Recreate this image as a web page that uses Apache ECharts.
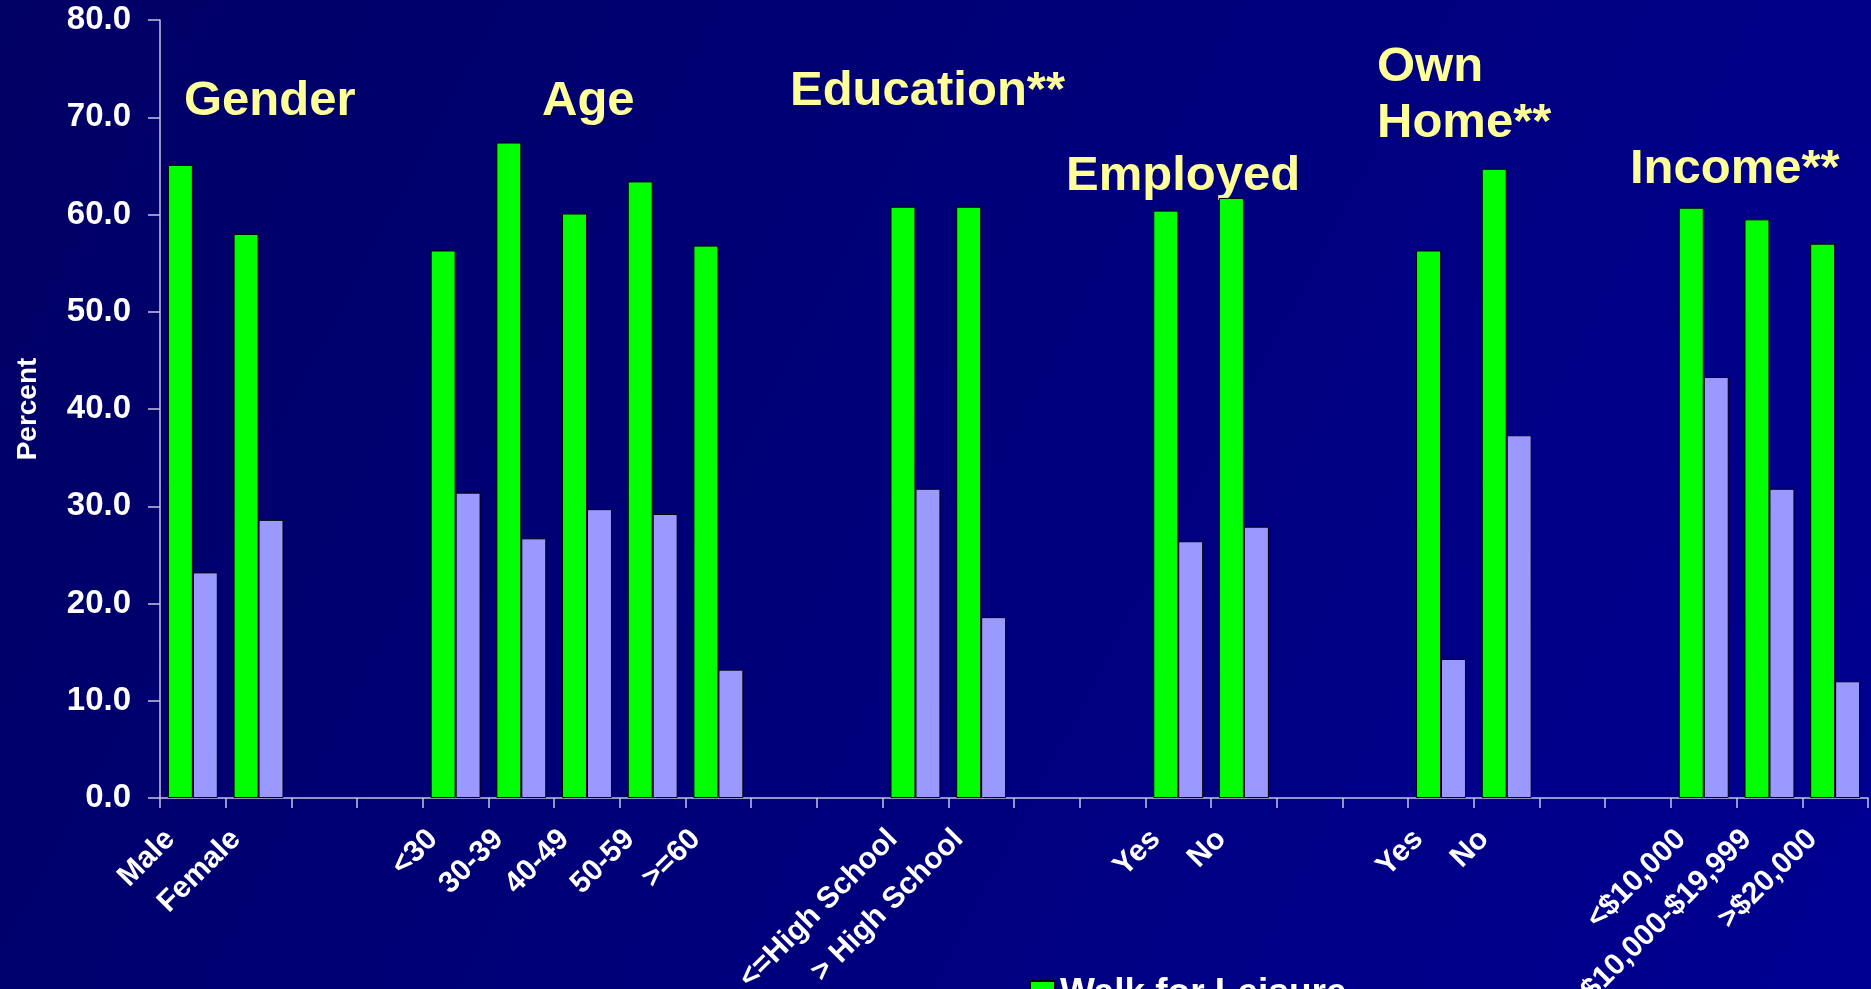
<!DOCTYPE html>
<html>
<head>
<meta charset="utf-8">
<title>Walking by demographic group</title>
<script src="https://cdn.jsdelivr.net/npm/echarts@6/dist/echarts.min.js"></script>
<style>
  html, body { margin: 0; padding: 0; background: #000070; }
  #chart { width: 1871px; height: 989px; }
</style>
</head>
<body>
<div id="chart"></div>
<script>
// Categories; blank entries are spacer slots between the groups
const categories = [
  'Male', 'Female', '', '',
  '<30', '30-39', '40-49', '50-59', '>=60', '', '',
  '<=High School', '> High School', '', '',
  'Yes', 'No', '', '',
  'Yes', 'No', '', '',
  '<$10,000', '$10,000-$19,999', '>$20,000'
];

// Percent walking for leisure
const leisure = [
  65.1, 58.0, null, null,
  56.3, 67.4, 60.1, 63.4, 56.8, null, null,
  60.8, 60.8, null, null,
  60.4, 61.7, null, null,
  56.3, 64.7, null, null,
  60.7, 59.5, 57.0
];

// Percent walking for transportation
const transport = [
  23.2, 28.6, null, null,
  31.4, 26.7, 29.7, 29.2, 13.2, null, null,
  31.8, 18.6, null, null,
  26.4, 27.9, null, null,
  14.3, 37.3, null, null,
  43.3, 31.8, 12.0
];

const seriesNames = ['Walk for Leisure', 'Walk for Transportation'];

// Group headings drawn above the bars
const groupTitles = ['Gender', 'Age', 'Education**', 'Employed', 'Own\nHome**', 'Income**'];

const FONT = "'Liberation Sans', Arial, Helvetica, sans-serif";
const TITLE_COLOR = '#FFFF99';
const AXIS_COLOR = '#C4C4E6';

const chart = echarts.init(document.getElementById('chart'), null, { renderer: 'canvas' });

// Heading placement (left edge, top of first line box)
const titleSpots = [
  { left: 184, top: 73 },
  { left: 542, top: 73 },
  { left: 790, top: 63 },
  { left: 1066, top: 148 },
  { left: 1377, top: 39 },
  { left: 1630, top: 141 }
];

const titleGraphics = groupTitles.map((t, i) => ({
  type: 'text',
  left: titleSpots[i].left,
  top: titleSpots[i].top,
  silent: true,
  style: {
    text: t,
    fill: TITLE_COLOR,
    font: 'bold 49px ' + FONT,
    lineHeight: 56
  }
}));

const option = {
  backgroundColor: {
    type: 'linear', x: 0, y: 0, x2: 1, y2: 1,
    colorStops: [
      { offset: 0, color: '#000064' },
      { offset: 1, color: '#000092' }
    ]
  },
  textStyle: { fontFamily: FONT },
  animation: false,
  grid: {
    left: 160, right: 3, top: 20, bottom: 191,
    containLabel: false,
    outerBoundsMode: 'none'
  },
  legend: {
    orient: 'vertical',
    left: 1024,
    top: 970,
    height: 200,
    itemWidth: 25,
    itemHeight: 25,
    itemGap: 20,
    icon: 'rect',
    textStyle: { color: '#FFFFFF', fontSize: 37, fontWeight: 'bold', fontFamily: FONT },
    data: seriesNames
  },
  xAxis: {
    type: 'category',
    data: categories,
    boundaryGap: true,
    axisLine: { lineStyle: { color: AXIS_COLOR, width: 1.5 } },
    axisTick: { show: true, interval: 0, length: 10, lineStyle: { color: AXIS_COLOR, width: 1.5 } },
    axisLabel: {
      interval: 0,
      rotate: 45,
      margin: 14,
      padding: [0, 32, 0, 0],
      color: '#FFFFFF',
      fontSize: 30,
      fontWeight: 'bold',
      fontFamily: FONT
    },
    splitLine: { show: false }
  },
  yAxis: {
    type: 'value',
    min: 0,
    max: 80,
    interval: 10,
    name: 'Percent',
    nameLocation: 'middle',
    nameGap: 118,
    nameRotate: 90,
    nameTextStyle: { color: '#FFFFFF', fontSize: 28, fontWeight: 'bold', fontFamily: FONT },
    axisLine: { show: true, lineStyle: { color: AXIS_COLOR, width: 1.5 } },
    axisTick: { show: true, length: 12, lineStyle: { color: AXIS_COLOR, width: 1.5 } },
    axisLabel: {
      margin: 29,
      color: '#FFFFFF',
      fontSize: 33,
      fontWeight: 'bold',
      fontFamily: FONT,
      formatter: v => v.toFixed(1)
    },
    splitLine: { show: false }
  },
  series: [
    {
      name: seriesNames[0],
      type: 'bar',
      data: leisure,
      barGap: '0%',
      barCategoryGap: '24%',
      itemStyle: { color: '#00FF00', borderColor: '#000000', borderWidth: 1 }
    },
    {
      name: seriesNames[1],
      type: 'bar',
      data: transport,
      barGap: '0%',
      barCategoryGap: '24%',
      itemStyle: { color: '#9999FF', borderColor: '#000000', borderWidth: 1 }
    }
  ],
  graphic: titleGraphics
};

chart.setOption(option);
</script>
</body>
</html>
